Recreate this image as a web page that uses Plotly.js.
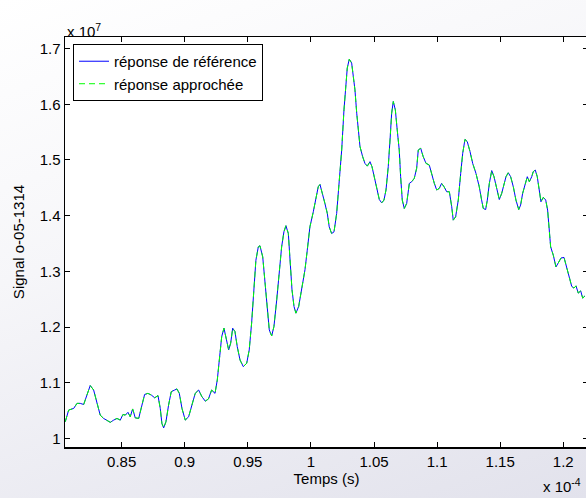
<!DOCTYPE html>
<html>
<head>
<meta charset="utf-8">
<script src="https://cdn.plot.ly/plotly-3.0.1.min.js"></script>
<style>
html,body{margin:0;padding:0;overflow:hidden;width:586px;height:498px;}
body{background:linear-gradient(160deg,#ffffff 0%,#f6f6f9 40%,#e2e2ec 100%);}
#chart{position:absolute;left:0;top:0;width:589px;height:498px;}
</style>
</head>
<body>
<div id="chart"></div>
<script>
// time in units of 1e-4 s
const timeVals = [0.8053,0.8080,0.8120,0.8146,0.8172,0.8199,0.8225,0.8251,0.8278,0.8304,0.8330,0.8357,0.8383,0.8410,0.8437,0.8463,0.8489,0.8510,0.8529,0.8550,0.8568,0.8587,0.8608,0.8635,0.8661,0.8682,0.8708,0.8735,0.8762,0.8788,0.8806,0.8819,0.8833,0.8851,0.8872,0.8893,0.8920,0.8938,0.8957,0.8978,0.9004,0.9031,0.9057,0.9083,0.9110,0.9136,0.9163,0.9188,0.9213,0.9240,0.9258,0.9274,0.9293,0.9311,0.9327,0.9348,0.9364,0.9380,0.9398,0.9416,0.9438,0.9464,0.9491,0.9511,0.9530,0.9549,0.9564,0.9583,0.9596,0.9618,0.9636,0.9654,0.9670,0.9689,0.9707,0.9729,0.9749,0.9768,0.9786,0.9802,0.9821,0.9834,0.9850,0.9866,0.9881,0.9903,0.9927,0.9953,0.9971,0.9992,1.0019,1.0040,1.0058,1.0072,1.0093,1.0111,1.0130,1.0145,1.0164,1.0183,1.0204,1.0225,1.0244,1.0262,1.0278,1.0288,1.0304,1.0323,1.0336,1.0349,1.0363,1.0375,1.0389,1.0410,1.0428,1.0447,1.0468,1.0484,1.0500,1.0521,1.0542,1.0561,1.0579,1.0595,1.0613,1.0627,1.0640,1.0653,1.0669,1.0684,1.0700,1.0711,1.0724,1.0740,1.0759,1.0780,1.0799,1.0819,1.0838,1.0851,1.0870,1.0890,1.0912,1.0938,1.0957,1.0978,1.0997,1.1017,1.1036,1.1055,1.1076,1.1097,1.1116,1.1128,1.1147,1.1168,1.1187,1.1203,1.1221,1.1239,1.1261,1.1282,1.1308,1.1334,1.1353,1.1366,1.1385,1.1398,1.1414,1.1433,1.1451,1.1472,1.1493,1.1512,1.1530,1.1546,1.1564,1.1583,1.1604,1.1625,1.1647,1.1662,1.1678,1.1696,1.1715,1.1731,1.1750,1.1762,1.1778,1.1794,1.1810,1.1823,1.1842,1.1861,1.1876,1.1889,1.1900,1.1921,1.1942,1.1960,1.1982,1.2006,1.2027,1.2048,1.2067,1.2085,1.2101,1.2119,1.2138,1.2154,1.2172];
// signal in units of 1e7
const refSignal = [1.030,1.051,1.054,1.063,1.063,1.061,1.078,1.095,1.087,1.066,1.042,1.036,1.033,1.029,1.033,1.036,1.033,1.043,1.042,1.047,1.039,1.053,1.037,1.036,1.060,1.079,1.081,1.078,1.073,1.077,1.054,1.027,1.019,1.030,1.060,1.084,1.087,1.089,1.081,1.054,1.033,1.039,1.060,1.081,1.087,1.075,1.067,1.071,1.087,1.081,1.105,1.141,1.183,1.198,1.180,1.159,1.171,1.198,1.192,1.165,1.141,1.129,1.135,1.159,1.207,1.267,1.320,1.344,1.346,1.326,1.279,1.225,1.195,1.184,1.201,1.249,1.303,1.344,1.371,1.382,1.368,1.326,1.267,1.237,1.225,1.237,1.267,1.303,1.338,1.380,1.407,1.428,1.452,1.456,1.440,1.422,1.404,1.380,1.368,1.371,1.404,1.458,1.518,1.590,1.638,1.665,1.681,1.674,1.650,1.626,1.584,1.554,1.524,1.506,1.494,1.489,1.497,1.488,1.470,1.452,1.429,1.423,1.428,1.446,1.488,1.536,1.584,1.605,1.590,1.554,1.518,1.470,1.428,1.413,1.422,1.458,1.461,1.467,1.485,1.518,1.521,1.506,1.494,1.491,1.473,1.458,1.446,1.449,1.458,1.452,1.443,1.443,1.416,1.392,1.398,1.428,1.476,1.512,1.537,1.533,1.515,1.494,1.476,1.452,1.428,1.413,1.411,1.428,1.458,1.481,1.470,1.452,1.429,1.440,1.458,1.470,1.477,1.470,1.452,1.428,1.411,1.419,1.440,1.455,1.470,1.461,1.470,1.479,1.482,1.470,1.440,1.425,1.433,1.428,1.410,1.380,1.344,1.329,1.308,1.315,1.324,1.325,1.308,1.290,1.273,1.270,1.274,1.261,1.265,1.252,1.256];
// approximated response: indistinguishable from the reference at this resolution
const approxSignal = refSignal.slice();

const xTicks = [0.85,0.9,0.95,1,1.05,1.1,1.15,1.2];
const xTickText = ['0.85','0.9','0.95','1','1.05','1.1','1.15','1.2'];
const yTicks = [1,1.1,1.2,1.3,1.4,1.5,1.6,1.7];
const yTickText = ['1','1.1','1.2','1.3','1.4','1.5','1.6','1.7'];
const seriesNames = ['réponse de référence','réponse approchée'];

const font = {family:'"Liberation Sans", Arial, sans-serif', size:15, color:'#000'};

const traces = [
  {x: timeVals, y: refSignal, type:'scatter', mode:'lines', name: seriesNames[0],
   line:{color:'#0000ff', width:1}},
  {x: timeVals, y: approxSignal, type:'scatter', mode:'lines', name: seriesNames[1],
   line:{color:'#00ff00', width:1, dash:'6px,4px'}}
];

const axisCommon = {
  showgrid:false, zeroline:false, showline:true, linecolor:'#000', linewidth:1.5,
  mirror:'ticks', ticks:'inside', ticklen:5, tickwidth:1, tickcolor:'#000',
  tickfont: font
};

const layout = {
  width:589, height:498,
  margin:{l:65, r:1, t:37, b:51},
  paper_bgcolor:'rgba(0,0,0,0)',
  plot_bgcolor:'#ffffff',
  font: font,
  showlegend:true,
  legend:{x:0.0153, y:0.983, xanchor:'left', yanchor:'top', bgcolor:'#ffffff',
    bordercolor:'#000', borderwidth:1, font:font, tracegroupgap:0},
  xaxis: Object.assign({}, axisCommon, {
    range:[0.8051,1.2196], tickvals:xTicks, ticktext:xTickText,
    title:{text:'Temps (s)', font:font, standoff:4}
  }),
  yaxis: Object.assign({}, axisCommon, {
    range:[0.9847,1.7208], tickvals:yTicks, ticktext:yTickText,
    title:{text:'Signal o-05-1314', font:font, standoff:11}
  }),
  annotations:[
    {xref:'paper', yref:'paper', x:0, y:1, xanchor:'left', yanchor:'bottom', yshift:-5,
     showarrow:false, text:'x 10<sup>7</sup>', font:font},
    {xref:'paper', yref:'paper', x:0.99, y:-0.095, xanchor:'right', yanchor:'middle',
     showarrow:false, text:'x 10<sup>-4</sup>', font:font}
  ]
};

Plotly.newPlot('chart', traces, layout, {displayModeBar:false, staticPlot:true});
</script>
</body>
</html>
